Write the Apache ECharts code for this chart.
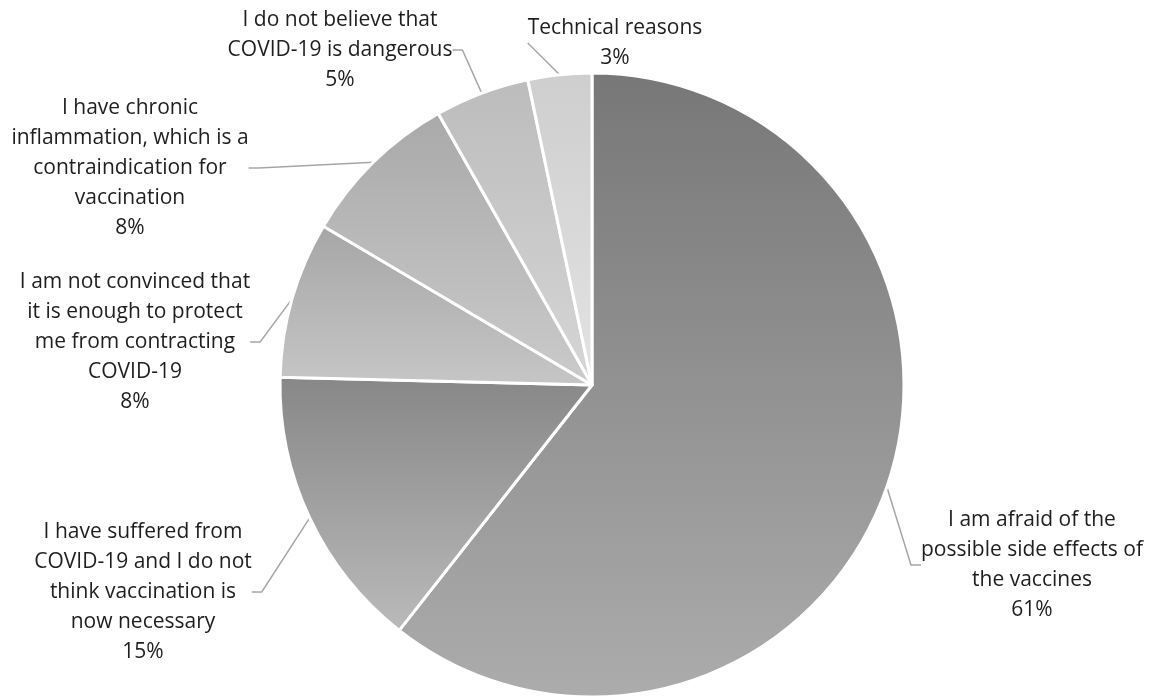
<!DOCTYPE html>
<html>
<head>
<meta charset="utf-8">
<script src="https://cdn.jsdelivr.net/npm/echarts@6/dist/echarts.min.js"></script>
<style>
  html, body { margin: 0; padding: 0; background: #fff; }
  #chart { width: 1151px; height: 697px; }
</style>
</head>
<body>
<div id="chart"></div>
<script>
// reasons, clockwise from 12 o'clock
const reasons = [
  "I am afraid of the\npossible side effects of\nthe vaccines",
  "I have suffered from\nCOVID-19 and I do not\nthink vaccination is\nnow necessary",
  "I am not convinced that\nit is enough to protect\nme from contracting\nCOVID-19",
  "I have chronic\ninflammation, which is a\ncontraindication for\nvaccination",
  "I do not believe that\nCOVID-19 is dangerous",
  "Technical reasons",
];
// share of respondents, %
const shares = [60.6, 14.8, 8.1, 8.3, 4.9, 3.3];

// gradient top / bottom grey for each slice
const topColors = ["#777777", "#878787", "#a6a6a6", "#a9a9a9", "#bcbcbc", "#cecece"];
const bottomColors = ["#acacac", "#bababa", "#c6c6c6", "#cbcbcb", "#d6d6d6", "#e3e3e3"];

// label block centres (px)
const labelPos = [
  [1032, 565],
  [143, 592],
  [135, 342],
  [130, 168],
  [340, 50],
  [615, 43],
];

const chart = echarts.init(document.getElementById("chart"));

const seriesData = reasons.map((name, i) => ({
  name: name,
  value: shares[i],
  itemStyle: {
    color: {
      type: "linear",
      x: 0, y: 0, x2: 0, y2: 1,
      colorStops: [
        { offset: 0, color: topColors[i] },
        { offset: 1, color: bottomColors[i] },
      ],
    },
  },
}));

chart.setOption({
  animation: false,
  series: [
    {
      type: "pie",
      center: [592, 385],
      radius: 312,
      startAngle: 90,
      clockwise: true,
      percentPrecision: 0,
      itemStyle: {
        borderColor: "#ffffff",
        borderWidth: 3,
      },
      label: {
        show: true,
        position: "outside",
        formatter: "{b}\n{d}%",
        fontFamily: "Open Sans",
        fontSize: 21,
        lineHeight: 30,
        color: "#1e1e1e",
        align: "center",
      },
      labelLine: {
        show: true,
        length: 15,
        length2: 10,
        lineStyle: { color: "#a6a6a6", width: 1.5 },
      },
      labelLayout: (params) => {
        const p = labelPos[params.dataIndex];
        return {
          x: p[0],
          y: p[1],
          align: "center",
          verticalAlign: "middle",
        };
      },
      emphasis: { disabled: true },
      data: seriesData,
    },
  ],
});
</script>
</body>
</html>
